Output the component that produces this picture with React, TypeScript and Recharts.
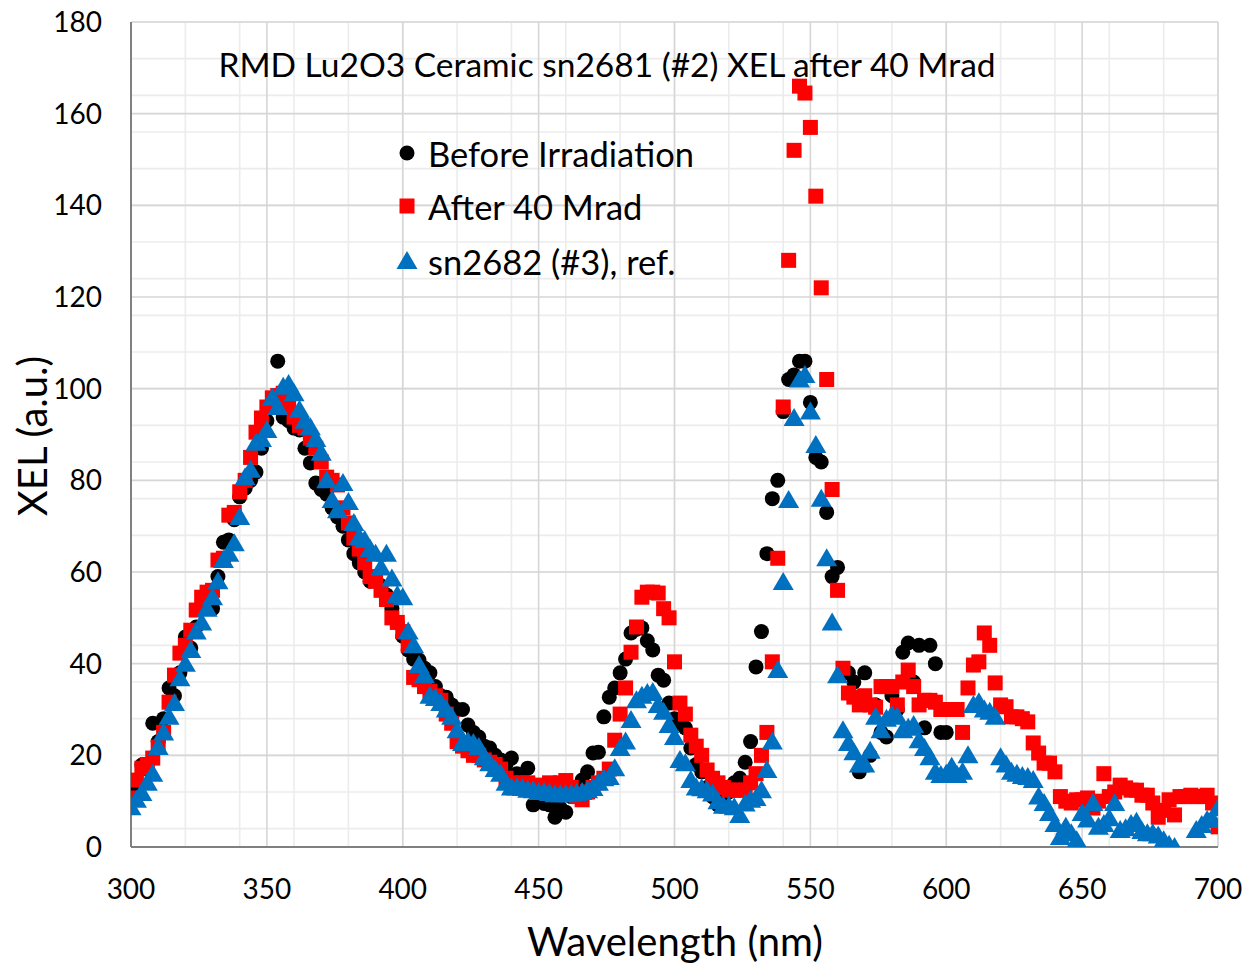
import React from 'react';
import { ScatterChart, Scatter, XAxis, YAxis, CartesianGrid, Customized } from 'recharts';

// ---------- data ----------
const beforeWl = [300,302,304,306,308,310,312,314,316,318,320,322,324,326,328,330,332,334,336,338,340,342,344,346,348,350,352,354,356,358,360,362,364,366,368,370,372,374,376,378,380,382,384,386,388,390,392,394,396,398,400,402,404,406,408,410,412,414,416,418,420,422,424,426,428,430,432,434,436,438,440,442,444,446,448,450,452,454,456,458,460,462,464,466,468,470,472,474,476,478,480,482,484,486,488,490,492,494,496,498,500,502,504,506,508,510,512,514,516,518,520,522,524,526,528,530,532,534,536,538,540,542,544,546,548,550,552,554,556,558,560,562,564,566,568,570,572,574,576,578,580,582,584,586,588,590,592,594,596,598,600];
const beforeXel = [11.8,14,17.9,17,27,23,28,34.7,33,38,45.8,43.4,48,52,53,52,59,66.5,67,71.4,76.4,78.3,80,81.8,87,93,97,106,93.8,93,91.4,91,87,83.8,79.4,78,77,74,72,70,67,64,62,60,58,58,57,55,52,49,46,43,41,40.8,39,38,35,33,32.7,31,30,30,26.6,25,24,22,21.6,20,19,18,19.4,16,15,17.2,9.2,10,9.5,9.2,6.5,8.5,7.6,11,12,14.6,16.4,20.5,20.7,28.4,32.7,34.7,38,41,46.7,47.5,47.8,45,43,37.5,36.4,31.4,28,27,26,21.6,18,16.4,13,11,9.2,10,12,14,15,18.5,23,39.3,47,64,76,80,95,102,103,106,106,97,85,84,73,59,61,38,38,36,16.4,38,20,31,25,24,33,30,42.5,44.5,36,44,26,44,40,25,25];

const afterWl = [300,302,304,306,308,310,312,314,316,318,320,322,324,326,328,330,332,334,336,338,340,342,344,346,348,350,352,354,356,358,360,362,364,366,368,370,372,374,376,378,380,382,384,386,388,390,392,394,396,398,400,402,404,406,408,410,412,414,416,418,420,422,424,426,428,430,432,434,436,438,440,442,444,446,448,450,452,454,456,458,460,462,464,466,468,470,472,474,476,478,480,482,484,486,488,490,492,494,496,498,500,502,504,506,508,510,512,514,516,518,520,522,524,526,528,530,532,534,536,538,540,542,544,546,548,550,552,554,556,558,560,562,564,566,568,570,572,574,576,578,580,582,584,586,588,590,592,594,596,598,600,602,604,606,608,610,612,614,616,618,620,622,624,626,628,630,632,634,636,638,640,642,644,646,648,650,652,654,656,658,660,662,664,666,668,670,672,674,676,678,680,682,684,686,688,690,692,694,696,698,700];
const afterXel = [10.7,14.6,17.2,18,19.4,21.8,25,31.6,37.5,42.3,44,47.3,51.7,54.5,55.6,56,62.6,63,72.4,73,77.5,80,85,90.5,93.6,96,98,98.5,99,96,93.8,92,91.4,89.2,87,84,80.7,80,79,74,70.7,67.4,65,62,59,58,56,54,50,49,47,44,37,36.5,35,34,33,32,29,27,23,22,21,20,20,19,18.5,18,17,15,14,13,14,14,13,13.5,13,14,13,14,14.5,13,11,10.3,12,13,14,15,17,23.3,29,34.7,42.5,48,54.5,55.6,55.6,55.4,52,50,40.4,31.4,29,24.4,22,20,16.8,15,14,13,12.4,12.4,12.4,12.4,14,16,20,25,40.4,63,96,128,152,166,164.5,157,142,122,102,78,56,39,33.6,32.7,31,33,31,30.5,35,35,35,31,36,38.6,35,31,32,32,31.6,30,30,30,30,25,34.7,39.7,40.4,46.7,44,35.8,31,30.6,28.4,28.4,28,27.3,22.7,20.5,18.3,18.3,16.4,11,10,9.6,10.3,10.3,10.7,8.5,10,16,11,12,13.5,12.9,12.4,12.4,11.3,11.3,9.6,6.5,8,10.3,7,11,11,11.3,11,11,11.3,9.6,4.4];

const refWl = [300,302,304,306,308,310,312,314,316,318,320,322,324,326,328,330,332,334,336,338,340,342,344,346,348,350,352,354,356,358,360,362,364,366,368,370,372,374,376,378,380,382,384,386,388,390,392,394,396,398,400,402,404,406,408,410,412,414,416,418,420,422,424,426,428,430,432,434,436,438,440,442,444,446,448,450,452,454,456,458,460,462,464,466,468,470,472,474,476,478,480,482,484,486,488,490,492,494,496,498,500,502,504,506,508,510,512,514,516,518,520,522,524,526,528,530,532,534,536,538,540,542,544,546,548,550,552,554,556,558,560,562,564,566,568,570,572,574,576,578,580,582,584,586,588,590,592,594,596,598,600,602,604,606,608,610,612,614,616,618,620,622,624,626,628,630,632,634,636,638,640,642,644,646,648,650,652,654,656,658,660,662,664,666,668,670,672,674,676,678,680,682,684,692,694,696,698,700];
const refXel = [8.7,10.3,11.8,14,16,21.8,25,28.4,31.4,36.8,40,43,47,49,52,54.5,58,62.6,64,66.3,72,80.7,82.3,88.2,89,91,98,96,100.4,101,99,95.4,93,91.6,89,86,80,75.7,73.5,79.4,75.3,70.7,67.6,67,65,64,61,64,58.6,55,54.5,47,44,39.7,37.5,33,32.5,31.4,30,28.4,25.5,22.7,23,22.7,21.8,19.6,18.3,17,16,14,13,13,12.9,12.5,12.4,12,12,11.8,11.5,11.5,11.5,11.6,11.8,12,12.4,12.9,14,15,15.3,17.2,21.6,23,27.7,32,33,33.6,33.8,31,29.5,26.6,24,19,18.3,14.6,13,12.8,12.4,11.7,10,9,9,8.7,7,9.5,10.3,10.7,12.4,16.8,23,38.6,57.8,75.7,93.6,102,103,95,87.7,76,63,49,37.5,25.5,22.7,20.7,18,18,21,28.4,25.5,28,28.8,28.4,25.5,26,26.6,23.3,21.6,19.6,16.4,15.7,16,17.5,15.7,16.4,20,31,31.6,30,29.5,28.4,19.6,18,16.4,16,15.5,15.3,14.6,11,9.6,7.4,5,2.2,4.4,3,1.5,7.4,6,9.6,4.4,5,6.3,9.6,3.7,4.1,5,5.5,3.5,3,3,2.5,1.5,0.5,0,3.7,4.8,5.9,6,8.5];

const xMajorTicks = [300, 350, 400, 450, 500, 550, 600, 650, 700];
const yMajorTicks = [0, 20, 40, 60, 80, 100, 120, 140, 160, 180];
const xMinorTicks = [300,310,320,330,340,350,360,370,380,390,400,410,420,430,440,450,460,470,480,490,500,510,520,530,540,550,560,570,580,590,600,610,620,630,640,650,660,670,680,690,700];
const yMinorTicks = [0,4,8,12,16,20,24,28,32,36,40,44,48,52,56,60,64,68,72,76,80,84,88,92,96,100,104,108,112,116,120,124,128,132,136,140,144,148,152,156,160,164,168,172,176,180];

const chartTitle = 'RMD Lu2O3 Ceramic sn2681 (#2) XEL after 40 Mrad';
const seriesNames = ['Before Irradiation', 'After 40 Mrad', 'sn2682 (#3), ref.'];

const beforeData = beforeWl.map((x, i) => ({ x, y: beforeXel[i] }));
const afterData = afterWl.map((x, i) => ({ x, y: afterXel[i] }));
const refData = refWl.map((x, i) => ({ x, y: refXel[i] }));

// ---------- styles ----------
const FONT = 'Lato, "Open Sans", sans-serif';
const BLACK = '#000000';
const RED = '#ff0000';
const BLUE = '#0070c0';

const CircleShape = (p: any) => <circle cx={p.cx} cy={p.cy} r={7.5} fill={BLACK} />;
const SquareShape = (p: any) => <rect x={p.cx - 7.5} y={p.cy - 7.5} width={15} height={15} fill={RED} />;
const TriangleShape = (p: any) => (
  <polygon points={`${p.cx},${p.cy - 10} ${p.cx - 10.5},${p.cy + 8} ${p.cx + 10.5},${p.cy + 8}`} fill={BLUE} />
);

const Texts = () => (
  <g fontFamily={FONT} fill="#000">
    <text x={607} y={64} textAnchor="middle" dominantBaseline="central" fontSize={33.5}>{chartTitle}</text>
    <text x={32} y={436} textAnchor="middle" dominantBaseline="central" fontSize={40} transform="rotate(-90 32 436)">XEL (a.u.)</text>
    <text x={675} y={941} textAnchor="middle" dominantBaseline="central" fontSize={40}>Wavelength (nm)</text>
    {/* legend */}
    <circle cx={407} cy={153} r={7.5} fill={BLACK} />
    <text x={428} y={153} dominantBaseline="central" fontSize={34.5}>{seriesNames[0]}</text>
    <rect x={399.5} y={198.5} width={15} height={15} fill={RED} />
    <text x={428} y={206} dominantBaseline="central" fontSize={34.5}>{seriesNames[1]}</text>
    <polygon points="407,251 396.5,269 417.5,269" fill={BLUE} />
    <text x={428} y={261} dominantBaseline="central" fontSize={34.5}>{seriesNames[2]}</text>
  </g>
);

export default function App() {
  const tickStyle = { fontFamily: FONT, fontSize: 28, fill: '#000' };
  return (
    <div style={{ position: 'absolute', left: 0, top: 0, width: 1244, height: 964, background: '#fff' }}>
      <ScatterChart width={1244} height={964} margin={{ top: 22, right: 26, bottom: 87, left: 61 }}>
        <CartesianGrid verticalValues={xMinorTicks} horizontalValues={yMinorTicks} stroke="#ececec" strokeWidth={1.6} />
        <CartesianGrid verticalValues={xMajorTicks} horizontalValues={yMajorTicks} stroke="#d6d6d6" strokeWidth={1.6} />
        <XAxis
          xAxisId="minor"
          type="number"
          dataKey="x"
          domain={[300, 700]}
          ticks={xMinorTicks}
          height={1}
          tick={false}
          tickSize={-7}
          tickLine={{ stroke: '#b4b4b4', strokeWidth: 1.5 }}
          axisLine={false}
        />
        <YAxis
          yAxisId="minor"
          type="number"
          dataKey="y"
          domain={[0, 180]}
          ticks={yMinorTicks}
          width={1}
          tick={false}
          tickSize={-8}
          tickLine={{ stroke: '#b4b4b4', strokeWidth: 1.5 }}
          axisLine={false}
        />
        <XAxis
          type="number"
          dataKey="x"
          domain={[300, 700]}
          ticks={xMajorTicks}
          height={29}
          tickSize={0}
          tickMargin={32}
          tickLine={false}
          axisLine={{ stroke: '#808080', strokeWidth: 2 }}
          tick={tickStyle}
          allowDataOverflow
        />
        <YAxis
          type="number"
          dataKey="y"
          domain={[0, 180]}
          ticks={yMajorTicks}
          width={69}
          tickSize={0}
          tickMargin={29}
          tickLine={false}
          axisLine={{ stroke: '#808080', strokeWidth: 2 }}
          tick={tickStyle}
          allowDataOverflow
        />
        <XAxis xAxisId="top" orientation="top" type="number" domain={[300, 700]} height={0} tick={false} tickLine={false} axisLine={{ stroke: '#000', strokeWidth: 2.5 }} />
        <YAxis yAxisId="right" orientation="right" type="number" domain={[0, 180]} width={0} tick={false} tickLine={false} axisLine={{ stroke: '#000', strokeWidth: 2.5 }} />
        <Scatter name={seriesNames[0]} data={beforeData} shape={CircleShape} isAnimationActive={false} />
        <Scatter name={seriesNames[1]} data={afterData} shape={SquareShape} isAnimationActive={false} />
        <Scatter name={seriesNames[2]} data={refData} shape={TriangleShape} isAnimationActive={false} />
        <Customized component={Texts} />
      </ScatterChart>
    </div>
  );
}
